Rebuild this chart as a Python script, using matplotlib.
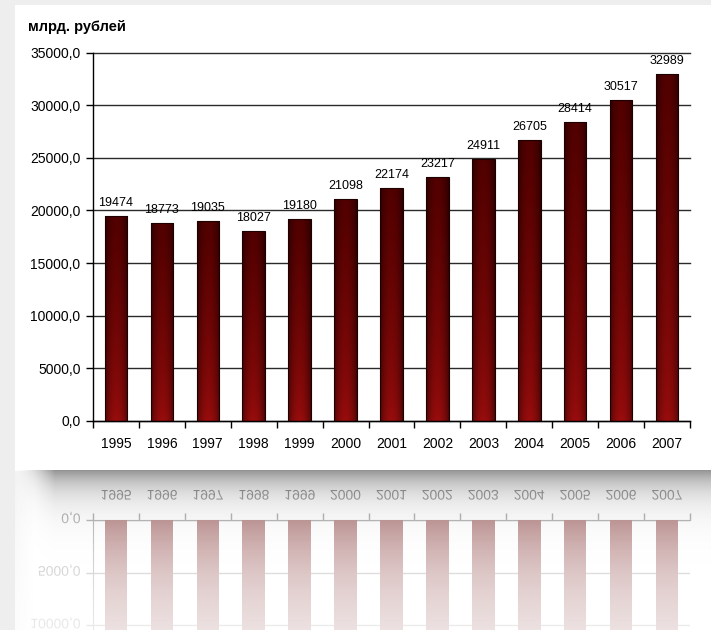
import numpy as np
import matplotlib
matplotlib.use("Agg")
import matplotlib.pyplot as plt
from matplotlib.patches import PathPatch
from matplotlib.textpath import TextPath
from matplotlib.transforms import Affine2D, IdentityTransform
from matplotlib.ticker import FuncFormatter

# ---- data -------------------------------------------------------------
years = ["1995", "1996", "1997", "1998", "1999", "2000", "2001",
         "2002", "2003", "2004", "2005", "2006", "2007"]
values = [19474, 18773, 19035, 18027, 19180, 21098, 22174,
          23217, 24911, 26705, 28414, 30517, 32989]
y_ticks = [0, 5000, 10000, 15000, 20000, 25000, 30000, 35000]
unit_label = "млрд. рублей"

plt.rcParams["font.family"] = ["Liberation Sans", "DejaVu Sans"]

# ---- layout (pixels, origin top-left) ---------------------------------
W, H, DPI = 711, 630, 100
CARD_L, CARD_T, CARD_B = 15, 5, 470.5
PLOT_L, PLOT_R, PLOT_T, PLOT_B = 93, 690, 52.5, 421
BAR_W = 0.49


def frac(x0, y0, x1, y1):
    return [x0 / W, 1 - y1 / H, (x1 - x0) / W, (y1 - y0) / H]


fig = plt.figure(figsize=(W / DPI, H / DPI), dpi=DPI)
fig.patch.set_facecolor("white")

yy, xx = np.mgrid[0:H, 0:W] + 0.5

# ---- backdrop: grey page with a white card ---------------------------
bg = np.ones((H, W, 3))
bg[(xx < CARD_L) | (yy < CARD_T)] = 0.935
below = yy > CARD_B
ramp = np.clip((xx - CARD_L) / 18.0, 0, 1)
bg[below & (xx >= CARD_L)] = (0.95 + 0.05 * ramp[below & (xx >= CARD_L)])[:, None]
bgax = fig.add_axes([0, 0, 1, 1], zorder=-5)
bgax.imshow(bg, extent=(0, W, H, 0), aspect="auto", interpolation="bilinear")
bgax.set_xlim(0, W)
bgax.set_ylim(H, 0)
bgax.axis("off")

# ---- main chart -------------------------------------------------------
x = np.arange(len(years))
ax = fig.add_axes(frac(PLOT_L, PLOT_T, PLOT_R, PLOT_B), zorder=1)
ax.patch.set_visible(False)

bars = ax.bar(x, values, width=BAR_W, facecolor="none",
              edgecolor="#1e0000", linewidth=0.8, zorder=3)

# cylindrical maroon gradient inside each bar
nx, ny = 40, 80
u = np.linspace(0, 1, nx)
t = np.linspace(0, 1, ny)[:, None]
shade = 0.5 + 0.5 * np.sin(np.pi * u) ** 0.7
top_c = np.array([0.32, 0.0, 0.0])
bot_c = np.array([0.60, 0.05, 0.05])
tt = t ** 0.7
centre = bot_c[None, :] * (1 - tt) + top_c[None, :] * tt
grad = centre[:, None, :] * shade[None, :, None]
for b in bars:
    im = ax.imshow(grad, extent=(b.get_x(), b.get_x() + b.get_width(), 0, b.get_height()),
                   origin="lower", aspect="auto", interpolation="bilinear", zorder=2)
    im.set_clip_path(b)

ax.set_xlim(-0.5, len(years) - 0.5)
ax.set_ylim(y_ticks[0], y_ticks[-1])

ax.set_yticks(y_ticks)
ax.yaxis.set_major_formatter(FuncFormatter(lambda v, p: f"{v:.1f}".replace(".", ",")))
ax.grid(axis="y", color="#2a2a2a", linewidth=1.0, zorder=1)
for gl in ax.get_ygridlines():
    gl.set_clip_on(False)
ax.set_axisbelow(True)

ax.set_xticks(x)
ax.set_xticklabels(years)
ax.set_xticks(np.arange(len(years) + 1) - 0.5, minor=True)
ax.tick_params(axis="y", length=5, width=1, direction="out", pad=4,
               labelsize=10, colors="black")
ax.tick_params(axis="x", which="major", length=0, pad=11.5, labelsize=10)
ax.tick_params(axis="x", which="minor", length=5, width=1, direction="out")
for side in ("top", "right"):
    ax.spines[side].set_visible(False)
for side in ("left", "bottom"):
    ax.spines[side].set_color("black")
    ax.spines[side].set_linewidth(1.0)

for xi, v in zip(x, values):
    ax.annotate(str(v), (xi, v), xytext=(0, 7.2), textcoords="offset points",
                ha="center", va="baseline", fontsize=9, color="black",
                zorder=4, annotation_clip=False)

fig.text(28 / W, 1 - 31.5 / H, unit_label, fontsize=10.5, fontweight="bold",
         ha="left", va="baseline")

# ---- mirrored copy below the card -------------------------------------
axr = fig.add_axes(frac(PLOT_L, 2 * CARD_B - PLOT_B, PLOT_R, 2 * CARD_B - PLOT_T), zorder=1)
axr.patch.set_visible(False)
axr.bar(x, values, width=BAR_W, color="#9a5656", edgecolor="none", zorder=3)
axr.set_xlim(-0.5, len(years) - 0.5)
axr.set_ylim(y_ticks[-1], y_ticks[0])
axr.set_yticks(y_ticks)
axr.set_yticklabels([])
axr.grid(axis="y", color="#9a9a9a", linewidth=1.0, zorder=1)
axr.set_axisbelow(True)
axr.xaxis.tick_top()
axr.set_xticks([])
axr.set_xticks(np.arange(len(years) + 1) - 0.5, minor=True)
axr.tick_params(axis="x", which="minor", length=5, width=1, direction="out",
                colors="#8c8c8c", top=True, bottom=False)
axr.tick_params(axis="y", length=5, width=1, direction="out", colors="#8c8c8c")
for side in ("bottom", "right"):
    axr.spines[side].set_visible(False)
for side in ("top", "left"):
    axr.spines[side].set_color("#8c8c8c")

# mirrored labels: flip each drawn label of the main chart about the card edge
fig.canvas.draw()
renderer = fig.canvas.get_renderer()
mirror_disp = H - CARD_B
for txt in list(ax.get_xticklabels()) + list(ax.get_yticklabels()) + list(ax.texts):
    s = txt.get_text()
    if not s or not txt.get_visible():
        continue
    bb = txt.get_window_extent(renderer)
    prop = txt.get_fontproperties()
    _, _, d = renderer.get_text_width_height_descent(s, prop, ismath=False)
    base = bb.y0 + d
    path = TextPath((0, 0), s, size=prop.get_size_in_points() * DPI / 72, prop=prop)
    tr = Affine2D().scale(1, -1).translate(bb.x0, 2 * mirror_disp - base)
    fig.add_artist(PathPatch(tr.transform_path(path), transform=IdentityTransform(),
                             facecolor="#8a8a8a", edgecolor="none", zorder=2))

# ---- fading veil and card shadow ---------------------------------------
ov = fig.add_axes([0, 0, 1, 1], zorder=5)
fade = np.ones((H, W, 4))
a = np.clip(1 - 0.6 * np.exp(-(yy - 520) / 90.0), 0, 1)
a[yy < CARD_B] = 0
a[xx < CARD_L] = 0
fade[..., 3] = a
shadow = np.zeros((H, W, 4))
sx = np.clip((xx - CARD_L) / 40.0, 0, 1) ** 1.5
s_alpha = 0.42 * np.exp(-(yy - CARD_B) / 20.0) * sx
s_alpha[yy < CARD_B] = 0
shadow[..., 3] = s_alpha
ov.imshow(fade, extent=(0, W, H, 0), aspect="auto", interpolation="bilinear")
ov.imshow(shadow, extent=(0, W, H, 0), aspect="auto", interpolation="bilinear")
ov.set_xlim(0, W)
ov.set_ylim(H, 0)
ov.axis("off")

fig.savefig("out.png", dpi=DPI)
